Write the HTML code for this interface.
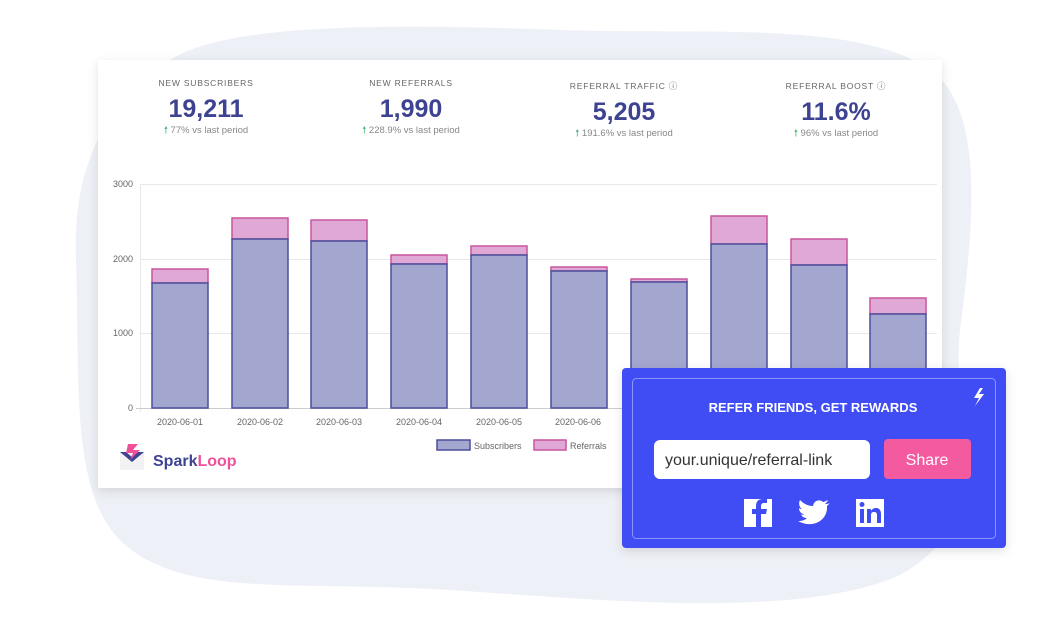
<!DOCTYPE html>
<html><head><meta charset="utf-8"><style>
html,body{margin:0;padding:0;background:#fff;width:1060px;height:624px;overflow:hidden}
svg{display:block;font-family:"Liberation Sans",sans-serif}
</style></head><body>
<svg width="1060" height="624" viewBox="0 0 1060 624">
<defs>
<filter id="sh" x="-10%" y="-10%" width="120%" height="130%"><feDropShadow dx="0" dy="3" stdDeviation="5" flood-color="#000" flood-opacity="0.12"/></filter>
</defs>
<path d="M170 60 C230 20 420 25 560 30 C700 35 860 20 930 70 C990 110 970 250 960 330 C950 420 1000 520 900 575 C800 620 600 600 450 590 C300 580 180 600 120 540 C70 490 80 380 76 260 C72 160 110 100 170 60 Z" fill="#eef0f7"/>
<rect x="98" y="60" width="844" height="428" fill="#fff" filter="url(#sh)"/>
<g text-anchor="middle">
<text x="206" y="86" font-size="8.5" fill="#666" letter-spacing="0.8">NEW SUBSCRIBERS</text>
<text x="206" y="117" font-size="25" font-weight="bold" fill="#3d4391">19,211</text>
<text x="206" y="133" font-size="9.5" fill="#888"><tspan fill="#3cb371">🠕</tspan> 77% vs last period</text>
<text x="411" y="86" font-size="8.5" fill="#666" letter-spacing="0.8">NEW REFERRALS</text>
<text x="411" y="117" font-size="25" font-weight="bold" fill="#3d4391">1,990</text>
<text x="411" y="133" font-size="9.5" fill="#888"><tspan fill="#3cb371">🠕</tspan> 228.9% vs last period</text>
<text x="624" y="89" font-size="8.5" fill="#666" letter-spacing="0.8">REFERRAL TRAFFIC ⓘ</text>
<text x="624" y="120" font-size="25" font-weight="bold" fill="#3d4391">5,205</text>
<text x="624" y="136" font-size="9.5" fill="#888"><tspan fill="#3cb371">🠕</tspan> 191.6% vs last period</text>
<text x="836" y="89" font-size="8.5" fill="#666" letter-spacing="0.8">REFERRAL BOOST ⓘ</text>
<text x="836" y="120" font-size="25" font-weight="bold" fill="#3d4391">11.6%</text>
<text x="836" y="136" font-size="9.5" fill="#888"><tspan fill="#3cb371">🠕</tspan> 96% vs last period</text>
</g>
<g stroke="#e8e8e8" stroke-width="1">
<line x1="140" y1="184.5" x2="937" y2="184.5"/><line x1="140" y1="259.5" x2="937" y2="259.5"/><line x1="140" y1="333.5" x2="937" y2="333.5"/>
<line x1="140.5" y1="184" x2="140.5" y2="412"/>
</g>
<line x1="136" y1="408.5" x2="937" y2="408.5" stroke="#ccc"/>
<g font-size="9" fill="#666" text-anchor="end">
<text x="133" y="187">3000</text><text x="133" y="262">2000</text><text x="133" y="336">1000</text><text x="133" y="411">0</text>
</g>
<g stroke-width="1.5">
<g fill="#e0a8d4" stroke="#c9559f">
<rect x="152" y="269" width="56" height="14"/><rect x="232" y="218" width="56" height="21"/><rect x="311" y="220" width="56" height="21"/><rect x="391" y="255" width="56" height="9"/><rect x="471" y="246" width="56" height="9"/><rect x="551" y="267" width="56" height="4"/><rect x="631" y="279" width="56" height="3"/><rect x="711" y="216" width="56" height="28"/><rect x="791" y="239" width="56" height="26"/><rect x="870" y="298" width="56" height="16"/>
</g>
<g fill="#a3a6cf" stroke="#4b4f9c">
<rect x="152" y="283" width="56" height="125"/><rect x="232" y="239" width="56" height="169"/><rect x="311" y="241" width="56" height="167"/><rect x="391" y="264" width="56" height="144"/><rect x="471" y="255" width="56" height="153"/><rect x="551" y="271" width="56" height="137"/><rect x="631" y="282" width="56" height="126"/><rect x="711" y="244" width="56" height="164"/><rect x="791" y="265" width="56" height="143"/><rect x="870" y="314" width="56" height="94"/>
</g>
</g>
<g font-size="9" fill="#666" text-anchor="middle">
<text x="180" y="425">2020-06-01</text><text x="260" y="425">2020-06-02</text><text x="339" y="425">2020-06-03</text><text x="419" y="425">2020-06-04</text><text x="499" y="425">2020-06-05</text><text x="578" y="425">2020-06-06</text>
</g>
<rect x="437" y="440" width="33" height="10" fill="#a3a6cf" stroke="#4b4f9c" stroke-width="1.5"/>
<text x="474" y="449" font-size="9" fill="#666">Subscribers</text>
<rect x="534" y="440" width="32" height="10" fill="#e0a8d4" stroke="#c9559f" stroke-width="1.5"/>
<text x="570" y="449" font-size="9" fill="#666">Referrals</text>
<rect x="120" y="452" width="24" height="18" fill="#f2f2f4"/>
<path d="M120 452 L132 462 L144 452 L138 452 L132 457 L126 452Z" fill="#3d4391"/>
<path d="M128 444 L138 444 L133 450 L140 450 L130 460 L133 453 L126 453Z" fill="#f0509a"/>
<text x="153" y="466" font-size="16" font-weight="bold" fill="#3d4391">Spark<tspan fill="#f0509a">Loop</tspan></text>
<rect x="622" y="368" width="384" height="180" rx="4" fill="#3f4df5" filter="url(#sh)"/>
<rect x="632.5" y="378.5" width="363" height="160" rx="4" fill="none" stroke="#8c95fa" stroke-width="1"/>
<path d="M980 388 L974 398 L979 398 L975 406 L984 394 L979 394 L983 388Z" fill="#fff"/>
<text x="813" y="412" font-size="13" font-weight="bold" fill="#fff" text-anchor="middle">REFER FRIENDS, GET REWARDS</text>
<rect x="654" y="440" width="216" height="39" rx="6" fill="#fff"/>
<text x="665" y="465" font-size="16" fill="#333">your.unique/referral-link</text>
<rect x="884" y="439" width="87" height="40" rx="4" fill="#f45aa0"/>
<text x="927" y="465" font-size="16" fill="#fff" text-anchor="middle">Share</text>
<rect x="744" y="499" width="28" height="28" fill="#fff"/>
<path d="M761 527 V514 H766 L767 509 H761 V506 C761 504 762 503 764 503 H767 V499 H763 C758 499 756 502 756 506 V509 H752 V514 H756 V527Z" fill="#3f4df5"/>
<path d="M830 503 C828 504 826 504 825 504 C826 503 828 501 828 500 C826 501 824 502 823 502 C820 499 814 500 813 506 C807 506 803 503 800 500 C798 504 800 508 802 509 C801 509 800 509 799 508 C799 511 801 514 804 514 C803 515 802 515 801 514 C802 517 804 518 807 518 C804 521 800 521 798 521 C812 529 828 521 827 506 C828 505 829 504 830 503Z" fill="#fff"/>
<rect x="856" y="499" width="28" height="28" fill="#fff"/>
<rect x="860" y="509" width="4" height="14" fill="#3f4df5"/><circle cx="862" cy="504.5" r="2.5" fill="#3f4df5"/>
<path d="M867 509 H871 V511 C872 509 874 508 876 508 C879 508 881 510 881 514 V523 H877 V515 C877 513 876 512 874 512 C872 512 871 513 871 515 V523 H867Z" fill="#3f4df5"/>
</svg>
</body></html>
